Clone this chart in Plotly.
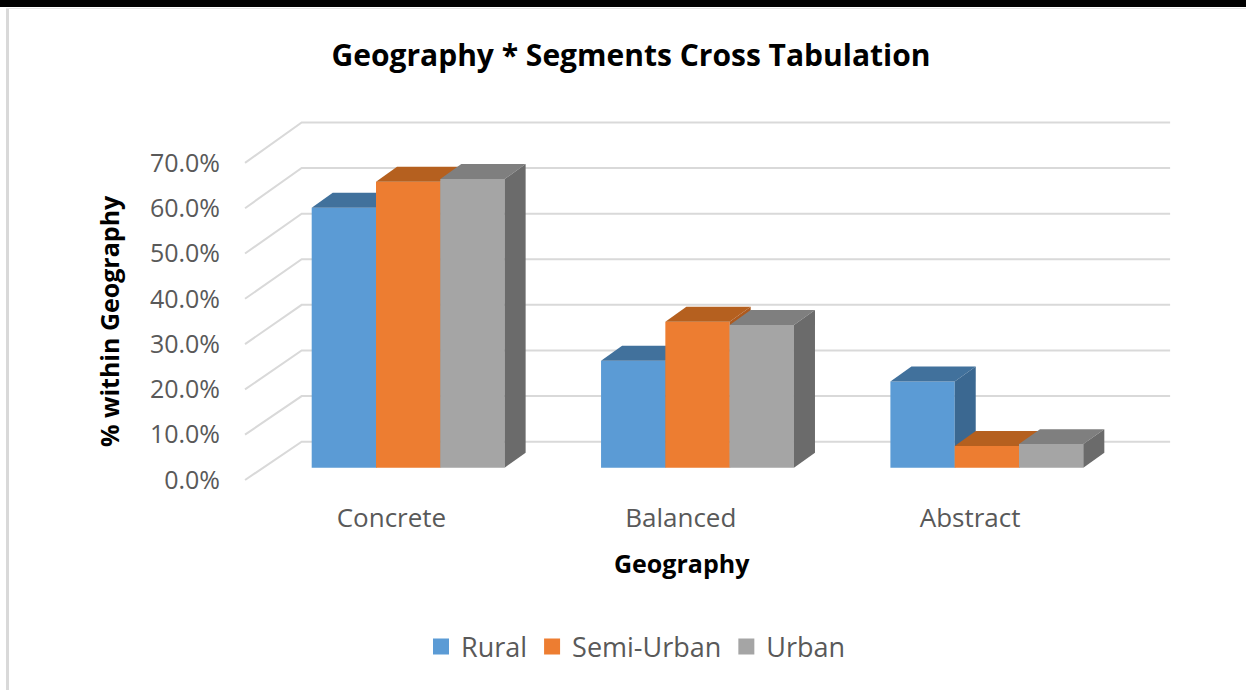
import plotly.graph_objects as go

# ---------------- data ----------------
categories = ["Concrete", "Balanced", "Abstract"]
series_names = ["Rural", "Semi-Urban", "Urban"]
rural = [57.4, 23.6, 19.0]
semi_urban = [63.1, 32.2, 4.8]
urban = [63.7, 31.5, 5.2]
y_ticks = [0, 10, 20, 30, 40, 50, 60, 70]
y_tick_labels = ["0.0%", "10.0%", "20.0%", "30.0%", "40.0%", "50.0%", "60.0%", "70.0%"]

series_values = [rural, semi_urban, urban]

# ---------------- style ----------------
front_colors = ["#5B9BD5", "#ED7D31", "#A5A5A5"]
top_colors = ["#41719C", "#B5601F", "#7F7F7F"]
side_colors = ["#3B6891", "#AE5A1E", "#6B6B6B"]
grid_color = "#D9D9D9"
label_color = "#595959"
FONT = "Open Sans"

W, H = 1246, 690
L, R, T, B = 225, 1190, 100, 500          # plot area in pixels
PX_X = 64.3                               # pixels per x unit (one bar width)
PX_Y = 4.53                               # pixels per percent
X0_PX = 311.7                             # pixel of x = 0
Y0_PX = 480.0                             # pixel of y = 0 (front plane)

x_range = [(L - X0_PX) / PX_X, (R - X0_PX) / PX_X]
y_range = [(Y0_PX - B) / PX_Y, (Y0_PX - T) / PX_Y]

GROUP_STEP = 4.5
BAR_W = 1.0
BAR_BASE = 2.72
DEPTH_X = 0.327
DEPTH_Y = 3.31
FLOOR_FRONT_X = -1.037
WALL_X0 = -0.156
WALL_X1 = 13.35
WALL_Y = 8.45
WALL_SCALE = 1.007
LABEL_SHIFT = -0.26


def px_to_paper_x(px):
    return (px - L) / (R - L)


def px_to_paper_y(py):
    return (B - py) / (B - T)


fig = go.Figure()

# gridlines: side-wall diagonal + back wall
gx, gy = [], []
for t in y_ticks:
    back = t * WALL_SCALE + WALL_Y
    gx += [FLOOR_FRONT_X, WALL_X0, WALL_X1, None]
    gy += [t, back, back, None]
fig.add_trace(go.Scatter(x=gx, y=gy, mode="lines", line=dict(color=grid_color, width=2),
                         hoverinfo="skip", showlegend=False))


def poly(xs, ys, color, hover=None):
    fig.add_trace(go.Scatter(
        x=xs + [xs[0]], y=ys + [ys[0]], mode="lines", fill="toself",
        fillcolor=color, line=dict(width=0, color=color),
        hoverinfo="text" if hover else "skip", hoveron="fills", text=hover,
        showlegend=False))


for i, cat in enumerate(categories):
    for j, name in enumerate(series_names):
        v = series_values[j][i]
        x0 = i * GROUP_STEP + j * BAR_W
        x1 = x0 + BAR_W
        y0 = BAR_BASE
        y1 = BAR_BASE + v
        hov = f"{name} - {cat}: {v:.1f}%"
        poly([x0, x1, x1, x0], [y0, y0, y1, y1], front_colors[j], hov)
        poly([x0, x1, x1 + DEPTH_X, x0 + DEPTH_X], [y1, y1, y1 + DEPTH_Y, y1 + DEPTH_Y], top_colors[j])
        poly([x1, x1 + DEPTH_X, x1 + DEPTH_X, x1], [y0, y0 + DEPTH_Y, y1 + DEPTH_Y, y1], side_colors[j])

# legend entries
for j, name in enumerate(series_names):
    fig.add_trace(go.Scatter(x=[None], y=[None], mode="markers", name=name,
                             marker=dict(symbol="square", size=17, color=front_colors[j])))

cat_ticks = [i * GROUP_STEP + 1.5 * BAR_W + LABEL_SHIFT for i in range(len(categories))]

fig.update_layout(
    width=W, height=H, autosize=False,
    margin=dict(l=L, r=W - R, t=T, b=H - B, pad=0),
    paper_bgcolor="white", plot_bgcolor="white",
    font=dict(family=FONT, color=label_color),
    title=dict(text="<b>Geography * Segments Cross Tabulation</b>",
               x=631 / W, y=1 - 55 / H, xref="container", yref="container",
               xanchor="center", yanchor="middle",
               font=dict(family=FONT, size=30, color="#000000")),
    xaxis=dict(range=x_range, tickvals=cat_ticks, ticktext=categories, showgrid=False,
               zeroline=False, showline=False, ticks="",
               tickfont=dict(family=FONT, size=26, color=label_color), fixedrange=True),
    yaxis=dict(range=y_range, tickvals=y_ticks, ticktext=y_tick_labels, showgrid=False,
               zeroline=False, showline=False, ticks="", ticklabelstandoff=4,
               tickfont=dict(family=FONT, size=25, color=label_color), fixedrange=True),
    legend=dict(orientation="h", xanchor="center", yanchor="middle",
                x=px_to_paper_x(636), y=px_to_paper_y(647),
                font=dict(family=FONT, size=27, color=label_color),
                bgcolor="rgba(0,0,0,0)"),
    annotations=[
        dict(text="<b>Geography</b>", xref="paper", yref="paper",
             x=px_to_paper_x(682), y=px_to_paper_y(563), xanchor="center", yanchor="middle",
             showarrow=False, font=dict(family=FONT, size=25, color="#000000")),
        dict(text="<b>% within Geography</b>", xref="paper", yref="paper", textangle=-90,
             x=px_to_paper_x(109), y=px_to_paper_y(321), xanchor="center", yanchor="middle",
             showarrow=False, font=dict(family=FONT, size=25, color="#000000")),
    ],
    shapes=[
        dict(type="rect", xref="paper", yref="paper", layer="above",
             x0=px_to_paper_x(0), x1=px_to_paper_x(W), y0=px_to_paper_y(0), y1=px_to_paper_y(7),
             fillcolor="#000000", line=dict(width=0)),
        dict(type="line", xref="paper", yref="paper", layer="above",
             x0=px_to_paper_x(7.5), x1=px_to_paper_x(7.5), y0=px_to_paper_y(8), y1=px_to_paper_y(H),
             line=dict(color="#D9D9D9", width=3)),
        dict(type="line", xref="paper", yref="paper", layer="above",
             x0=px_to_paper_x(6), x1=px_to_paper_x(W), y0=px_to_paper_y(8.5), y1=px_to_paper_y(8.5),
             line=dict(color="#E6E6E6", width=1)),
    ],
)

fig.write_html("out.html", config={"displayModeBar": False},
               post_script="document.body.style.margin='0';")
